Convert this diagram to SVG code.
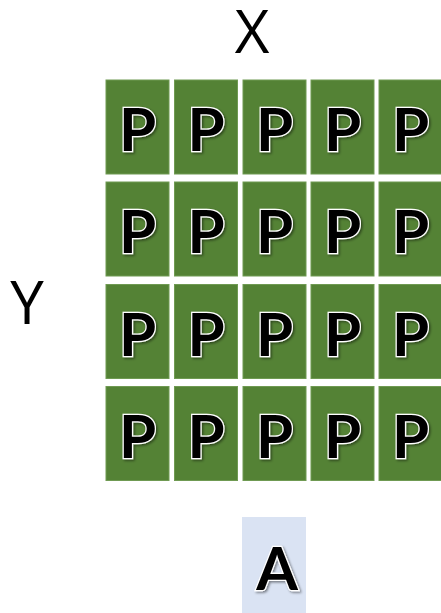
<svg xmlns="http://www.w3.org/2000/svg" width="441" height="613" viewBox="0 0 441 613">
<style>
.cell{fill:#548235;stroke:#6f9a52;stroke-width:1}
.lbl{font-family:"Open Sans","Liberation Sans",sans-serif;font-size:60px;fill:#000;text-anchor:middle}
.p{font-family:Lato,"Open Sans",sans-serif;font-weight:bold;font-size:60px;fill:#000;stroke:#fff;stroke-width:2.5;paint-order:stroke;text-anchor:middle;filter:url(#sh)}
.a{fill:#dae3f3}
</style>
<defs>
<filter id="sh" x="-30%" y="-30%" width="160%" height="160%">
<feDropShadow dx="1.5" dy="1.5" stdDeviation="1.2" flood-color="#000" flood-opacity="0.45"/>
</filter>
</defs>
<rect width="441" height="613" fill="#fff"/>
<g id="label-x"><text class="lbl" x="252" y="53">X</text></g>
<g id="label-y"><text class="lbl" x="27" y="324">Y</text></g>
<g id="grid">
<g id="p-1-1"><rect class="cell" x="106" y="80" width="63" height="94"/><text class="p" x="137.5" y="151">P</text></g>
<g id="p-1-2"><rect class="cell" x="174.5" y="80" width="63" height="94"/><text class="p" x="206" y="151">P</text></g>
<g id="p-1-3"><rect class="cell" x="243" y="80" width="63" height="94"/><text class="p" x="274.5" y="151">P</text></g>
<g id="p-1-4"><rect class="cell" x="311" y="80" width="63" height="94"/><text class="p" x="342.5" y="151">P</text></g>
<g id="p-1-5"><rect class="cell" x="379" y="80" width="63" height="94"/><text class="p" x="410.5" y="151">P</text></g>
<g id="p-2-1"><rect class="cell" x="106" y="182" width="63" height="94"/><text class="p" x="137.5" y="253">P</text></g>
<g id="p-2-2"><rect class="cell" x="174.5" y="182" width="63" height="94"/><text class="p" x="206" y="253">P</text></g>
<g id="p-2-3"><rect class="cell" x="243" y="182" width="63" height="94"/><text class="p" x="274.5" y="253">P</text></g>
<g id="p-2-4"><rect class="cell" x="311" y="182" width="63" height="94"/><text class="p" x="342.5" y="253">P</text></g>
<g id="p-2-5"><rect class="cell" x="379" y="182" width="63" height="94"/><text class="p" x="410.5" y="253">P</text></g>
<g id="p-3-1"><rect class="cell" x="106" y="284.5" width="63" height="94"/><text class="p" x="137.5" y="355.5">P</text></g>
<g id="p-3-2"><rect class="cell" x="174.5" y="284.5" width="63" height="94"/><text class="p" x="206" y="355.5">P</text></g>
<g id="p-3-3"><rect class="cell" x="243" y="284.5" width="63" height="94"/><text class="p" x="274.5" y="355.5">P</text></g>
<g id="p-3-4"><rect class="cell" x="311" y="284.5" width="63" height="94"/><text class="p" x="342.5" y="355.5">P</text></g>
<g id="p-3-5"><rect class="cell" x="379" y="284.5" width="63" height="94"/><text class="p" x="410.5" y="355.5">P</text></g>
<g id="p-4-1"><rect class="cell" x="106" y="386.5" width="63" height="94"/><text class="p" x="137.5" y="457.5">P</text></g>
<g id="p-4-2"><rect class="cell" x="174.5" y="386.5" width="63" height="94"/><text class="p" x="206" y="457.5">P</text></g>
<g id="p-4-3"><rect class="cell" x="243" y="386.5" width="63" height="94"/><text class="p" x="274.5" y="457.5">P</text></g>
<g id="p-4-4"><rect class="cell" x="311" y="386.5" width="63" height="94"/><text class="p" x="342.5" y="457.5">P</text></g>
<g id="p-4-5"><rect class="cell" x="379" y="386.5" width="63" height="94"/><text class="p" x="410.5" y="457.5">P</text></g>
</g>
<g id="a-node"><rect class="a" x="242" y="517" width="64" height="96"/><text class="p" x="277" y="590">A</text></g>
<g id="connectors"/>
</svg>
